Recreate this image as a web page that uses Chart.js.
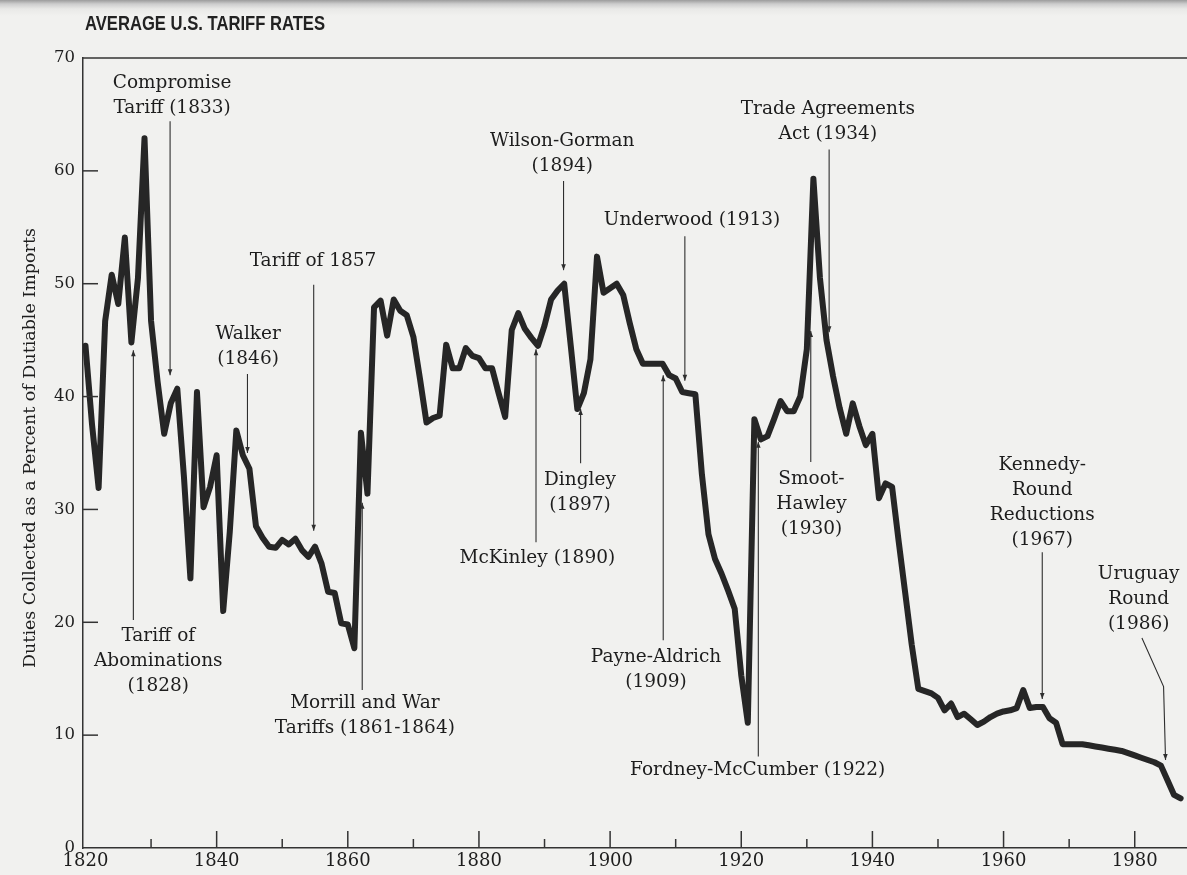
<!DOCTYPE html>
<html><head><meta charset="utf-8">
<script src="https://cdn.jsdelivr.net/npm/chart.js@4.4.1/dist/chart.umd.min.js"></script>
<style>
html,body{margin:0;padding:0;}
body{width:1187px;height:875px;overflow:hidden;background:linear-gradient(to bottom,#9c9c9c 0px,#cdcdcd 4px,#e9e9e7 9px,#f1f1ef 16px);}
#wrap{position:relative;width:1187px;height:875px;}
canvas{display:block;}
</style></head><body>
<div id="wrap"><canvas id="c" width="1187" height="875"></canvas></div>
<script>
// ---------------- DATA ----------------
const chartTitle = 'AVERAGE U.S. TARIFF RATES';
const yAxisTitle = 'Duties Collected as a Percent of Dutiable Imports';

const years = [
  1820,1821,1822,1823,1824,1825,1826,1827,1828,1829,
  1830,1831,1832,1833,1834,1835,1836,1837,1838,1839,
  1840,1841,1842,1843,1844,1845,1846,1847,1848,1849,
  1850,1851,1852,1853,1854,1855,1856,1857,1858,1859,
  1860,1861,1862,1863,1864,1865,1866,1867,1868,1869,
  1870,1871,1872,1873,1874,1875,1876,1877,1878,1879,
  1880,1881,1882,1883,1884,1885,1886,1887,1888,1889,
  1890,1891,1892,1893,1894,1895,1896,1897,1898,1899,
  1900,1901,1902,1903,1904,1905,1906,1907,1908,1909,
  1910,1911,1912,1913,1914,1915,1916,1917,1918,1919,
  1920,1921,1922,1923,1924,1925,1926,1927,1928,1929,
  1930,1931,1932,1933,1934,1935,1936,1937,1938,1939,
  1940,1941,1942,1943,1944,1945,1946,1947,1948,1949,
  1950,1951,1952,1953,1954,1955,1956,1957,1958,1959,
  1960,1961,1962,1963,1964,1965,1966,1967,1968,1969,
  1970,1971,1972,1973,1974,1975,1976,1977,1978,1979,
  1980,1981,1982,1983,1984,1985,1986,1987
];
const tariffRates = [
  44.5,37.5,31.9,46.7,50.8,48.2,54.1,44.8,50.5,62.9,
  46.7,41.3,36.7,39.4,40.7,33.0,23.9,40.4,30.2,32.0,
  34.8,21.0,28.0,37.0,34.8,33.6,28.5,27.5,26.7,26.6,
  27.3,26.9,27.4,26.4,25.8,26.7,25.2,22.7,22.6,19.9,
  19.8,17.7,36.8,31.4,47.9,48.5,45.4,48.6,47.6,47.2,
  45.3,41.6,37.7,38.1,38.3,44.6,42.5,42.5,44.3,43.6,
  43.4,42.5,42.5,40.3,38.2,45.9,47.4,46.0,45.2,44.5,
  46.3,48.6,49.4,50.0,44.5,38.9,40.3,43.3,52.4,49.2,
  49.6,50.0,49.0,46.5,44.2,42.9,42.9,42.9,42.9,41.9,
  41.6,40.4,40.3,40.2,33.1,27.8,25.6,24.3,22.8,21.2,
  15.3,11.1,38.0,36.2,36.5,38.0,39.6,38.7,38.7,40.0,
  44.2,59.3,50.5,45.0,41.8,39.0,36.7,39.4,37.4,35.7,
  36.7,31.0,32.3,32.0,27.2,22.6,18.0,14.1,13.9,13.7,
  13.3,12.2,12.8,11.6,11.9,11.4,10.9,11.2,11.6,11.9,
  12.1,12.2,12.4,14.0,12.4,12.5,12.5,11.5,11.1,9.2,
  9.2,9.2,9.2,9.1,9.0,8.9,8.8,8.7,8.6,8.4,
  8.2,8.0,7.8,7.6,7.3,6.0,4.7,4.4
];
const xTickYears  = [1820,1840,1860,1880,1900,1920,1940,1960,1980];
const xMinorYears = [1830,1850,1870,1890,1910,1930,1950,1970];
const yTickValues = [0,10,20,30,40,50,60,70];

// annotation texts and their anchor positions (data units: year, percent)
const annotationLabels = [
  {lines:['Compromise','Tariff (1833)'], x:1833.2, y:67.8},
  {lines:['Walker','(1846)'], x:1844.8, y:45.5},
  {lines:['Tariff of 1857'], x:1854.7, y:52.0},
  {lines:['Tariff of','Abominations','(1828)'], x:1831.1, y:18.8},
  {lines:['Morrill and War','Tariffs (1861-1864)'], x:1862.6, y:12.8},
  {lines:['Wilson-Gorman','(1894)'], x:1892.7, y:62.6},
  {lines:['Underwood (1913)'], x:1912.5, y:55.6},
  {lines:['Dingley','(1897)'], x:1895.4, y:32.6},
  {lines:['McKinley (1890)'], x:1888.9, y:25.7},
  {lines:['Payne-Aldrich','(1909)'], x:1907.0, y:16.9},
  {lines:['Trade Agreements','Act (1934)'], x:1933.2, y:65.5},
  {lines:['Smoot-','Hawley','(1930)'], x:1930.7, y:32.7},
  {lines:['Fordney-McCumber (1922)'], x:1922.5, y:6.9},
  {lines:['Kennedy-','Round','Reductions','(1967)'], x:1965.9, y:33.9},
  {lines:['Uruguay','Round','(1986)'], x:1980.6, y:24.3}
];
const annotationArrows = [
  [[1832.9,64.4],[1832.9,41.9]],
  [[1844.7,42.0],[1844.7,35.0]],
  [[1854.8,49.9],[1854.8,28.1]],
  [[1827.3,20.2],[1827.3,44.1]],
  [[1862.2,14.0],[1862.2,30.6]],
  [[1892.9,59.1],[1892.9,51.2]],
  [[1911.4,54.2],[1911.4,41.4]],
  [[1895.5,34.1],[1895.5,38.9]],
  [[1888.7,27.1],[1888.7,44.2]],
  [[1908.1,18.4],[1908.1,41.9]],
  [[1933.4,61.9],[1933.4,45.7]],
  [[1930.6,34.2],[1930.6,45.8]],
  [[1922.6,8.1],[1922.6,36.0]],
  [[1965.9,26.2],[1965.9,13.2]],
  [[1981.1,18.6],[1984.4,14.3],[1984.7,7.8]]
];

// ---------------- STYLE ----------------
const SERIF = "'DejaVu Serif', 'Liberation Serif', serif";
const INK = '#1d1d1d';
const AXIS = '#333333';
const LABEL_LINE_H = 25;

const decorPlugin = {
  id:'decor',
  afterDraw(chart){
    const {ctx, chartArea:a, scales:{x, y}} = chart;
    ctx.save();
    // frame top line
    ctx.strokeStyle = AXIS; ctx.lineWidth = 1.5;
    ctx.beginPath(); ctx.moveTo(a.left, a.top); ctx.lineTo(chart.width, a.top); ctx.stroke();
    // inward y ticks
    yTickValues.filter(v => v > 0 && v < 70).forEach(v => {
      const py = y.getPixelForValue(v);
      ctx.beginPath(); ctx.moveTo(a.left, py); ctx.lineTo(a.left + 15, py); ctx.stroke();
    });
    // inward x ticks
    xTickYears.filter(v => v > 1820).forEach(v => {
      const px = x.getPixelForValue(v);
      ctx.beginPath(); ctx.moveTo(px, a.bottom); ctx.lineTo(px, a.bottom - 17); ctx.stroke();
    });
    xMinorYears.forEach(v => {
      const px = x.getPixelForValue(v);
      ctx.beginPath(); ctx.moveTo(px, a.bottom); ctx.lineTo(px, a.bottom - 9); ctx.stroke();
    });
    // chart title (condensed bold sans)
    ctx.fillStyle = '#222';
    ctx.font = "bold 20px 'Liberation Sans', Arial, sans-serif";
    ctx.textBaseline = 'middle'; ctx.textAlign = 'left';
    const tw = ctx.measureText(chartTitle).width;
    const sx = 240 / tw;
    ctx.save(); ctx.translate(85, 24); ctx.scale(sx, 1); ctx.fillText(chartTitle, 0, 0); ctx.restore();
    // y axis title
    ctx.font = '17px ' + SERIF;
    const yw = ctx.measureText(yAxisTitle).width;
    const fs = 17 * 440 / yw;
    ctx.font = fs.toFixed(2) + 'px ' + SERIF;
    ctx.fillStyle = INK; ctx.textAlign = 'center';
    ctx.save(); ctx.translate(30, (a.top + a.bottom) / 2 - 5); ctx.rotate(-Math.PI / 2);
    ctx.fillText(yAxisTitle, 0, 0); ctx.restore();
    // annotations
    ctx.font = '18.5px ' + SERIF;
    ctx.fillStyle = INK; ctx.textAlign = 'center'; ctx.textBaseline = 'middle';
    annotationLabels.forEach(l => {
      const cx = x.getPixelForValue(l.x), cy = y.getPixelForValue(l.y);
      l.lines.forEach((t, i) => ctx.fillText(t, cx, cy + i * LABEL_LINE_H));
    });
    ctx.strokeStyle = '#2e2e2e'; ctx.lineWidth = 1.1; ctx.fillStyle = '#2e2e2e';
    annotationArrows.forEach(path => {
      const pts = path.map(p => [x.getPixelForValue(p[0]), y.getPixelForValue(p[1])]);
      ctx.beginPath();
      pts.forEach((p, i) => i ? ctx.lineTo(p[0], p[1]) : ctx.moveTo(p[0], p[1]));
      ctx.stroke();
      const [x2, y2] = pts[pts.length - 1], [x1, y1] = pts[pts.length - 2];
      const ang = Math.atan2(y2 - y1, x2 - x1);
      const L = 6, W = 2.3;
      ctx.beginPath();
      ctx.moveTo(x2, y2);
      ctx.lineTo(x2 - L * Math.cos(ang) - W * Math.sin(ang), y2 - L * Math.sin(ang) + W * Math.cos(ang));
      ctx.lineTo(x2 - L * Math.cos(ang) + W * Math.sin(ang), y2 - L * Math.sin(ang) - W * Math.cos(ang));
      ctx.closePath(); ctx.fill();
    });
    ctx.restore();
  }
};

new Chart(document.getElementById('c'), {
  type: 'line',
  data: {
    datasets: [{
      data: years.map((yr, i) => ({x: yr, y: tariffRates[i]})),
      borderColor: '#262626',
      borderWidth: 6,
      pointRadius: 0,
      tension: 0,
      borderJoinStyle: 'round',
      borderCapStyle: 'round',
      fill: false
    }]
  },
  options: {
    responsive: false,
    devicePixelRatio: 1,
    animation: false,
    layout: {padding: {top: 58, right: 1, left: 0, bottom: 0}},
    plugins: {legend: {display: false}, tooltip: {enabled: false}, title: {display: false}},
    scales: {
      x: {
        type: 'linear', min: 1819.62, max: 1987.82,
        afterBuildTicks: s => { s.ticks = xTickYears.map(v => ({value: v})); },
        afterFit: s => { s.height = 27; },
        grid: {display: false, drawTicks: false},
        border: {display: true, color: AXIS, width: 1.5},
        ticks: {autoSkip: false, maxRotation: 0, padding: 3, color: INK,
                font: {family: SERIF, size: 18}, callback: v => String(v)}
      },
      y: {
        min: 0, max: 70,
        afterBuildTicks: s => { s.ticks = yTickValues.map(v => ({value: v})); },
        afterFit: s => { s.width = 83; },
        grid: {display: false, drawTicks: false},
        border: {display: true, color: AXIS, width: 1.5},
        ticks: {padding: 8, color: INK, font: {family: SERIF, size: 16.5}, callback: v => String(v)}
      }
    }
  },
  plugins: [decorPlugin]
});
</script>
</body></html>
